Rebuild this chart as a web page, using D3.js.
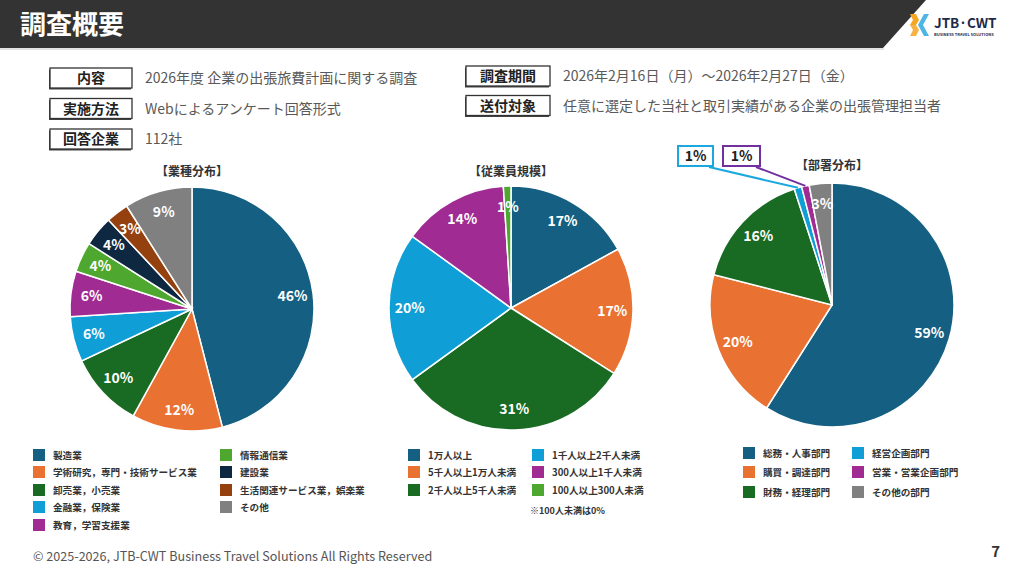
<!DOCTYPE html>
<html>
<head>
<meta charset="utf-8">
<script src="https://cdn.jsdelivr.net/npm/d3@7/dist/d3.min.js"></script>
<style>
  body { margin: 0; background: #fff; }
  svg { display: block; }
  text { font-family: "Noto Sans CJK JP", "Noto Sans", sans-serif; }
</style>
</head>
<body>
<div id="chart"></div>
<script>
// Pie data (percent shown on the slide)
const industryNames = ["製造業", "学術研究，専門・技術サービス業", "卸売業，小売業", "金融業，保険業", "教育，学習支援業",
  "情報通信業", "建設業", "生活関連サービス業，娯楽業", "その他"];
const industryValues = [46, 12, 10, 6, 6, 4, 4, 3, 9];

const sizeNames = ["1万人以上", "5千人以上1万人未満", "2千人以上5千人未満", "1千人以上2千人未満", "300人以上1千人未満", "100人以上300人未満"];
const sizeValues = [17, 17, 31, 20, 14, 1];

const deptNames = ["総務・人事部門", "購買・調達部門", "財務・経理部門", "経営企画部門", "営業・営業企画部門", "その他の部門"];
const deptValues = [59, 20, 16, 1, 1, 3];

const palette = ["#156082", "#E97132", "#196B24", "#0F9ED5", "#A02B93", "#4EA72E", "#0E2841", "#94400F", "#808080"];
const industryColors = palette;
const sizeColors = palette.slice(0, 6);
const deptColors = ["#156082", "#E97132", "#196B24", "#0F9ED5", "#A02B93", "#808080"];

// Survey overview rows
const infoLeft = [["内容", "2026年度 企業の出張旅費計画に関する調査"], ["実施方法", "Webによるアンケート回答形式"], ["回答企業", "112社"]];
const infoRight = [["調査期間", "2026年2月16日（月）～2026年2月27日（金）"], ["送付対象", "任意に選定した当社と取引実績がある企業の出張管理担当者"]];

const W = 1024, H = 576;
const svg = d3.select("#chart").append("svg").attr("width", W).attr("height", H);

// Header bar
svg.append("path").attr("d", "M0,0 H926 L883,48 H0 Z").attr("fill", "#333333");
svg.append("line").attr("x1", 0).attr("x2", 884).attr("y1", 49).attr("y2", 49)
  .attr("stroke", "#c8c8c8").attr("stroke-width", 1);
svg.append("text").attr("x", 20).attr("y", 34).attr("fill", "#fff")
  .attr("font-size", 26).attr("font-weight", 700).text("調査概要");

// Logo
const logo = svg.append("g").attr("transform", "translate(910,14)");
logo.append("path").attr("d", "M0,0 L6,0 L9,6 L6,11 L0,11 L3,6 Z").attr("fill", "#F5A623");
logo.append("path").attr("d", "M0,11 L6,11 L9,16 L6,22 L0,22 L3,16 Z").attr("fill", "#F5A623").attr("opacity", 0.85);
logo.append("path").attr("d", "M8,11 L14,0 L19,0 L13,11 L19,22 L14,22 Z").attr("fill", "#4FB6E3");
logo.append("text").attr("x", 24).attr("y", 14).attr("font-family", "Montserrat, 'Open Sans', sans-serif")
  .attr("font-size", 13.5).attr("font-weight", 600).attr("fill", "#1d2a4a").text("JTB·CWT");
logo.append("text").attr("x", 24).attr("y", 22).attr("font-family", "'Open Sans', sans-serif")
  .attr("font-size", 4).attr("font-weight", 600).attr("fill", "#1d2a4a").text("BUSINESS TRAVEL SOLUTIONS");

// Info boxes
function infoBox(x, y, w, label, value) {
  const g = svg.append("g").attr("transform", `translate(${x},${y})`);
  g.append("rect").attr("x", -1).attr("y", 1.5).attr("width", w).attr("height", 20).attr("fill", "#444");
  g.append("rect").attr("width", w).attr("height", 20).attr("fill", "#fff")
    .attr("stroke", "#333").attr("stroke-width", 1.3);
  g.append("text").attr("x", w / 2).attr("y", 15).attr("text-anchor", "middle")
    .attr("font-size", 14).attr("font-weight", 700).attr("fill", "#222").text(label);
  g.append("text").attr("x", w + 13).attr("y", 15).attr("font-size", 14)
    .attr("fill", "#595959").text(value);
}
infoLeft.forEach((d, i) => infoBox(50, 68 + i * 30.5, 82, d[0], d[1]));
infoRight.forEach((d, i) => infoBox(466, 66 + i * 29.5, 84, d[0], d[1]));

// Pie drawing
const R = 122;
const pie = d3.pie().sort(null).value(d => d);
const arc = d3.arc().innerRadius(0).outerRadius(R);
const labelArc = d3.arc().innerRadius(R * 0.83).outerRadius(R * 0.83);

function drawPie(cx, cy, title, titleY, values, colors, hideLabels) {
  svg.append("text").attr("x", cx).attr("y", titleY).attr("text-anchor", "middle")
    .attr("font-size", 12).attr("font-weight", 700).attr("fill", "#333").text(title);
  const g = svg.append("g").attr("transform", `translate(${cx},${cy})`);
  const arcs = pie(values);
  g.selectAll("path").data(arcs).enter().append("path")
    .attr("d", arc).attr("fill", (d, i) => colors[i])
    .attr("stroke", "#fff").attr("stroke-width", 1.5);
  g.selectAll("text").data(arcs.filter((d, i) => !hideLabels.includes(i))).enter().append("text")
    .attr("transform", d => `translate(${labelArc.centroid(d)})`)
    .attr("text-anchor", "middle").attr("dy", "0.36em")
    .attr("font-family", "'Noto Sans', 'Open Sans', sans-serif")
    .attr("font-size", 14).attr("font-weight", 700).attr("fill", "#fff")
    .text(d => d.data + "%");
  return arcs;
}

drawPie(192, 309, "【業種分布】", 176, industryValues, industryColors, []);
drawPie(511, 308, "【従業員規模】", 176, sizeValues, sizeColors, []);
const deptArcs = drawPie(832, 305, "【部署分布】", 170, deptValues, deptColors, [3, 4]);

// Callouts for the two 1% slices in 部署分布
const callouts = [{ i: 3, x: 678, w: 35, color: "#1BA8DF" }, { i: 4, x: 723, w: 37, color: "#7030A0" }];
callouts.forEach(c => {
  const a = deptArcs[c.i];
  const mid = (a.startAngle + a.endAngle) / 2;
  const px = 832 + R * Math.sin(mid), py = 305 - R * Math.cos(mid);
  svg.append("line").attr("x1", c.x + c.w - 4).attr("y1", 167).attr("x2", px).attr("y2", py)
    .attr("stroke", c.color).attr("stroke-width", 2);
  svg.append("rect").attr("x", c.x).attr("y", 146).attr("width", c.w).attr("height", 20)
    .attr("fill", "#fff").attr("stroke", c.color).attr("stroke-width", 2);
  svg.append("text").attr("x", c.x + c.w / 2).attr("y", 161).attr("text-anchor", "middle")
    .attr("font-family", "'Noto Sans', sans-serif").attr("font-size", 14).attr("font-weight", 700)
    .attr("fill", "#222").text(deptValues[c.i] + "%");
});

// Legends
function legend(items, colors, cols) {
  items.forEach((name, i) => {
    const p = cols[i];
    svg.append("rect").attr("x", p[0]).attr("y", p[1] - 6).attr("width", 12).attr("height", 12)
      .attr("fill", colors[i]);
    svg.append("text").attr("x", p[0] + 20).attr("y", p[1] + 4).attr("font-size", 9.6)
      .attr("font-weight", 700).attr("fill", "#333").text(name);
  });
}
legend(industryNames, industryColors, [
  [33, 455], [33, 472], [33, 490], [33, 507], [33, 525],
  [220, 455], [220, 472], [220, 490], [220, 507]
]);
legend(sizeNames, sizeColors, [
  [408, 455], [408, 472], [408, 490], [532, 455], [532, 472], [532, 490]
]);
svg.append("text").attr("x", 530).attr("y", 514).attr("font-size", 9).attr("font-weight", 700)
  .attr("fill", "#333").text("※100人未満は0%");
legend(deptNames, deptColors, [
  [743, 453], [743, 472], [743, 492], [852, 453], [852, 472], [852, 492]
]);

// Footer
svg.append("text").attr("x", 33).attr("y", 561).attr("font-family", "Montserrat, 'Open Sans', sans-serif")
  .attr("font-size", 12.6).attr("fill", "#555")
  .text("© 2025-2026, JTB-CWT Business Travel Solutions All Rights Reserved");
svg.append("text").attr("x", 1000).attr("y", 557).attr("text-anchor", "end")
  .attr("font-family", "'Liberation Serif', serif").attr("font-size", 15).attr("font-weight", 700)
  .attr("fill", "#333").text("7");
</script>
</body>
</html>
